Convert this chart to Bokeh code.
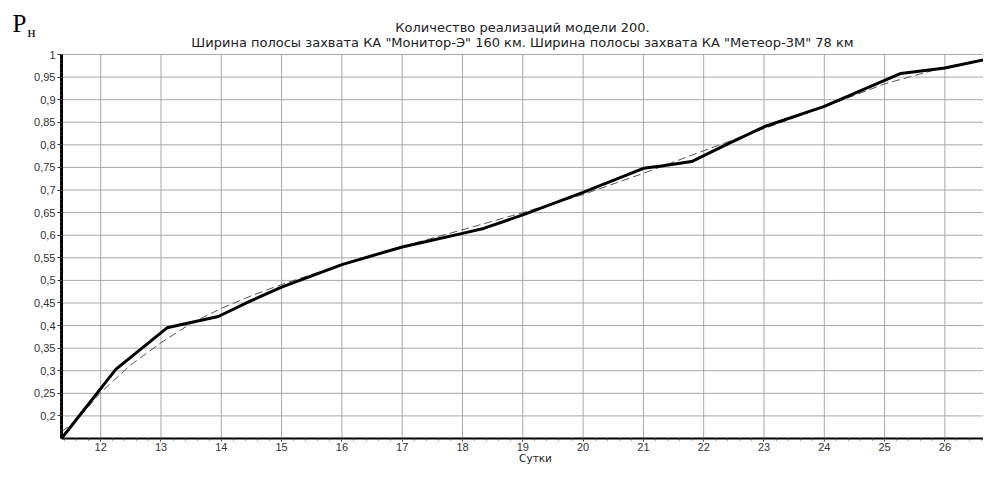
from bokeh.plotting import figure
from bokeh.models import FixedTicker, Label, Range1d
from bokeh.embed import file_html
from bokeh.resources import INLINE

# ---- data ----
title_line1 = "Количество реализаций модели 200."
title_line2 = 'Ширина полосы захвата КА "Монитор-Э" 160 км. Ширина полосы захвата КА "Метеор-3М" 78 км'
x_label = "Сутки"
y_symbol = "P"
y_subscript = "н"

solid_x = [11.35, 12.25, 13.10, 13.95, 14.46, 15.0, 16.0, 17.0, 18.0, 18.35, 19.0, 20.0,
           21.0, 21.3, 21.8, 22.4, 23.0, 24.0, 25.27, 26.0, 26.89, 27.0]
solid_y = [0.150, 0.303, 0.395, 0.420, 0.453, 0.485, 0.535, 0.574, 0.604, 0.615, 0.645, 0.695,
           0.748, 0.753, 0.763, 0.802, 0.840, 0.885, 0.958, 0.970, 0.995, 0.998]

dash_x = [11.35, 11.6, 12.0, 12.5, 13.0, 13.5, 14.0, 14.5, 15.0, 16.0, 17.0, 18.0, 19.0,
          20.0, 21.0, 22.0, 23.0, 24.0, 25.0, 26.0, 27.0]
dash_y = [0.165, 0.190, 0.252, 0.313, 0.362, 0.405, 0.438, 0.466, 0.491, 0.535, 0.575, 0.612,
          0.650, 0.690, 0.737, 0.787, 0.836, 0.884, 0.935, 0.972, 0.998]

x_min, x_max = 11.35, 27.0
y_min, y_max = 0.15, 1.0
x_ticks = [12, 13, 14, 15, 16, 17, 18, 19, 20, 21, 22, 23, 24, 25, 26, 27]
x_minor = [round(11.4 + 0.2 * i, 2) for i in range(79)]
y_ticks = [0.2, 0.25, 0.3, 0.35, 0.4, 0.45, 0.5, 0.55, 0.6, 0.65, 0.7, 0.75, 0.8, 0.85, 0.9, 0.95, 1.0]
y_tick_labels = ["0,2", "0,25", "0,3", "0,35", "0,4", "0,45", "0,5", "0,55", "0,6", "0,65",
                 "0,7", "0,75", "0,8", "0,85", "0,9", "0,95", "1"]
y_minor = [round(0.15 + 0.01 * i, 2) for i in range(86)]

# ---- layout (canvas pixels) ----
W, H = 983, 465
plot_left, plot_top, plot_bottom = 61, 54, 438   # where the data box sits in the canvas
px_per_x = 60.3
px_per_y = (plot_bottom - plot_top) / (y_max - y_min)
xr = Range1d(x_min - plot_left / px_per_x, x_min + (W - plot_left) / px_per_x)
yr = Range1d(y_min - (H - plot_bottom) / px_per_y, y_max + plot_top / px_per_y)

p = figure(width=W, height=H, output_backend="svg", toolbar_location=None,
           x_range=xr, y_range=yr,
           min_border_left=0, min_border_right=0, min_border_top=0, min_border_bottom=0)
p.outline_line_color = None
p.background_fill_color = "white"
p.border_fill_color = "white"
p.xgrid.visible = False
p.ygrid.visible = False

# grid lines bounded to the data box
grid_color = "#a8a8a8"
p.segment(x0=x_ticks, y0=[y_min] * len(x_ticks), x1=x_ticks, y1=[y_max] * len(x_ticks),
          line_color=grid_color, line_width=1)
p.segment(x0=[x_min] * len(y_ticks), y0=y_ticks, x1=[x_max] * len(y_ticks), y1=y_ticks,
          line_color=grid_color, line_width=1)

# lines
p.line(dash_x, dash_y, line_color="#555555", line_width=1, line_dash="8 4")
p.line(solid_x, solid_y, line_color="black", line_width=3)

# x axis
xa = p.xaxis[0]
xa.fixed_location = y_min
xa.bounds = (x_min, x_max)
xa.ticker = FixedTicker(ticks=x_ticks, minor_ticks=x_minor)
xa.axis_line_color = "black"
xa.axis_line_width = 2
xa.major_tick_out = 3
xa.major_tick_in = 0
xa.minor_tick_out = 2
xa.minor_tick_in = 0
xa.major_tick_line_color = "#333333"
xa.minor_tick_line_color = "#555555"
xa.major_label_standoff = 1
xa.major_label_text_font = "Liberation Sans"
xa.major_label_text_font_size = "11px"
xa.major_label_text_color = "#333333"

# y axis
ya = p.yaxis[0]
ya.fixed_location = x_min
ya.bounds = (y_min, y_max)
ya.ticker = FixedTicker(ticks=y_ticks, minor_ticks=y_minor)
ya.major_label_overrides = {t: l for t, l in zip(y_ticks, y_tick_labels)}
ya.axis_line_color = "black"
ya.axis_line_width = 3
ya.major_tick_out = 4
ya.major_tick_in = 0
ya.minor_tick_out = 1
ya.minor_tick_in = 0
ya.major_tick_line_color = "#333333"
ya.minor_tick_line_color = "#555555"
ya.major_label_standoff = 2
ya.major_label_text_font = "Liberation Sans"
ya.major_label_text_font_size = "11px"
ya.major_label_text_color = "#333333"

# texts (screen units: frame == canvas, y measured from the bottom)
def sy(canvas_y):
    return H - canvas_y

common = dict(x_units="screen", y_units="screen", text_font="DejaVu Sans",
              text_font_size="13px", text_color="#222222", text_align="center",
              text_baseline="middle")
p.add_layout(Label(x=522, y=sy(26.5), text=title_line1, **common))
p.add_layout(Label(x=522, y=sy(41.5), text=title_line2, **common))
p.add_layout(Label(x=535, y=sy(457.5), text=x_label, x_units="screen", y_units="screen",
                   text_font="DejaVu Sans", text_font_size="10.5px", text_color="#222222",
                   text_align="center", text_baseline="middle"))
p.add_layout(Label(x=12, y=sy(23), text=y_symbol, x_units="screen", y_units="screen",
                   text_font="Liberation Serif", text_font_size="25px",
                   text_color="black", text_align="left", text_baseline="middle"))
p.add_layout(Label(x=27, y=sy(31.5), text=y_subscript, x_units="screen", y_units="screen",
                   text_font="Liberation Serif", text_font_size="15px",
                   text_color="black", text_align="left", text_baseline="middle"))

open("out.html", "w").write(file_html(p, INLINE))
